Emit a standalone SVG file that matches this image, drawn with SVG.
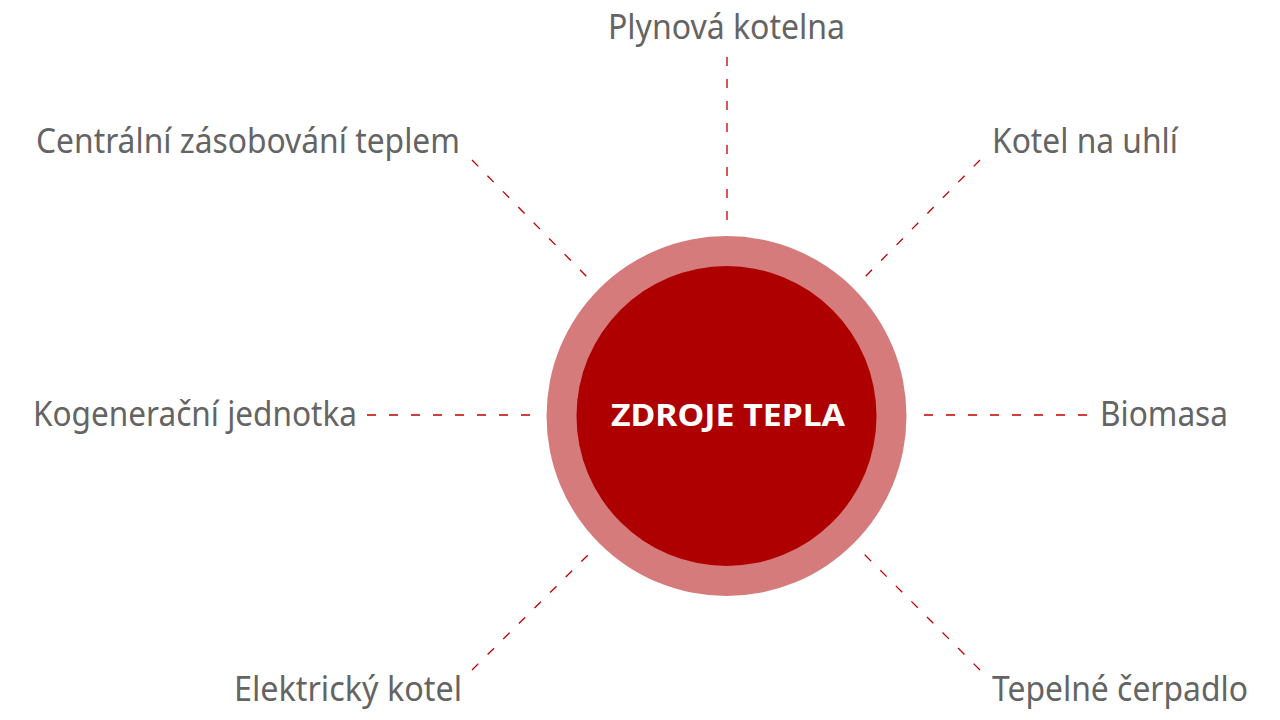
<svg xmlns="http://www.w3.org/2000/svg" width="1280" height="720" viewBox="0 0 1280 720">
<style>
.lbl{font-family:"Noto Sans","Liberation Sans",sans-serif;font-size:34px;fill:#646464}
.ctr{font-family:"Noto Sans","Liberation Sans",sans-serif;font-size:31px;font-weight:bold;fill:#ffffff}
.con{stroke:#C00000;stroke-width:1.3;stroke-dasharray:9 13;fill:none}
</style>
<rect width="1280" height="720" fill="#ffffff"/>
<g id="connectors">
<line class="con" x1="727" y1="57" x2="727" y2="224"/>
<line class="con" x1="367" y1="415" x2="535" y2="415"/>
<line class="con" x1="1087" y1="415" x2="919" y2="415"/>
<line class="con" x1="472" y1="160" x2="590" y2="280"/>
<line class="con" x1="980" y1="160" x2="862" y2="280"/>
<line class="con" x1="472" y1="670" x2="590" y2="553"/>
<line class="con" x1="980" y1="670" x2="863" y2="553"/>
</g>
<g id="center">
<circle cx="726.5" cy="416" r="180" fill="#D67B7B"/>
<circle cx="726.5" cy="416" r="150" fill="#AE0000"/>
<text class="ctr" x="611" y="426" textLength="234" lengthAdjust="spacingAndGlyphs">ZDROJE TEPLA</text>
</g>
<g id="n-plynova"><text class="lbl" x="608" y="39" textLength="237" lengthAdjust="spacingAndGlyphs">Plynová kotelna</text></g>
<g id="n-centralni"><text class="lbl" x="36" y="153" textLength="424" lengthAdjust="spacingAndGlyphs">Centrální zásobování teplem</text></g>
<g id="n-uhli"><text class="lbl" x="992" y="153" textLength="186" lengthAdjust="spacingAndGlyphs">Kotel na uhlí</text></g>
<g id="n-kogenerace"><text class="lbl" x="33" y="426" textLength="324" lengthAdjust="spacingAndGlyphs">Kogenerační jednotka</text></g>
<g id="n-biomasa"><text class="lbl" x="1100" y="426" textLength="128" lengthAdjust="spacingAndGlyphs">Biomasa</text></g>
<g id="n-elektricky"><text class="lbl" x="234" y="701" textLength="228" lengthAdjust="spacingAndGlyphs">Elektrický kotel</text></g>
<g id="n-cerpadlo"><text class="lbl" x="992" y="701" textLength="256" lengthAdjust="spacingAndGlyphs">Tepelné čerpadlo</text></g>
</svg>
